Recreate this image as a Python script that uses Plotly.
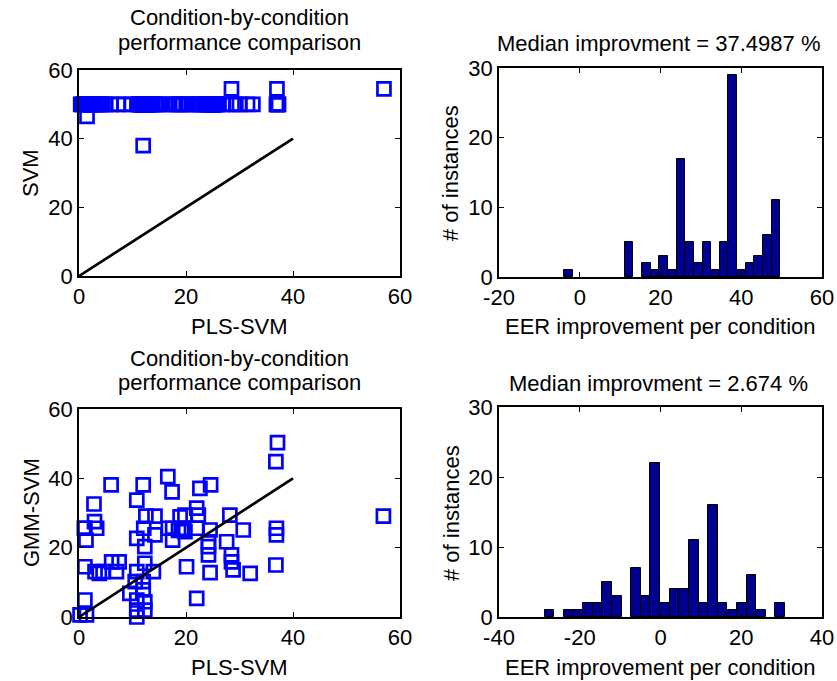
import plotly.graph_objects as go

W, H = 837, 681

# EER per condition: PLS-SVM (x) against the plain SVM baseline (y)
svm_pls = [0.32, 0.6, 0.8, 1.0, 1.2, 1.4, 1.6, 1.8, 2.0, 2.2, 2.4,
           2.7, 3.0, 3.4, 3.8, 4.1, 4.4,
           1.5, 5.0, 6.0,
           7.3, 8.4,
           9.8,
           11.1, 11.2, 11.3, 11.4, 11.5, 11.6, 11.7, 11.8, 11.9, 12.0,
           12.0, 12.1, 12.1, 12.2, 12.2, 12.3, 12.3, 12.4, 12.4, 12.5,
           12.5, 12.6, 12.6, 12.7, 12.8, 12.9, 13.0, 13.0, 13.1,
           13.4, 13.8, 14.3, 14.7, 15.1,
           16.2,
           17.6, 18.1, 18.6, 19.0, 19.4,
           20.2, 21.1,
           21.9, 22.4, 22.8, 23.2, 23.6,
           28.5, 12.0, 23.9, 24.0, 24.2, 24.3, 24.5, 24.6, 24.8, 24.9,
           25.0, 25.1, 25.3, 25.4, 25.6, 25.7, 25.9,
           27.0,
           28.6, 29.3, 30.0,
           31.5,
           37.0, 32.5,
           36.9, 37.0, 37.1, 37.2, 37.3,
           57.0]
svm_base = [50] * 11 + [50] * 6 + [46.5, 50, 50] + [50] * 2 + [50] + [50] * 29 \
    + [50] * 5 + [50] + [50] * 5 + [50] * 2 + [50] * 5 \
    + [54.5, 38.0] + [50] * 15 + [50] + [50] * 3 + [50] \
    + [54.5, 50] + [50] * 5 + [54.5]

# EER per condition: PLS-SVM (x) against the GMM-SVM baseline (y)
gmm_pls = [6.0, 12.0, 16.6, 17.4, 10.8, 2.8, 12.5, 14.2, 18.9, 2.9,
           1.0, 3.3, 1.3, 1.1, 10.8, 12.1, 14.2, 16.7, 17.5, 19.8,
           17.5, 12.3, 1.1, 3.0, 4.5, 6.1, 7.5, 7.0, 3.8, 12.3,
           10.8, 13.9, 10.5, 12.0, -0.4, 1.1, 9.5, 12.0, 10.8, 12.3,
           10.8, 12.3, 10.8, 0.2, 1.4, -0.3, 18.6, 19.5,
           37.1, 36.8, 22.6, 24.6, 22.0, 19.8, 22.3, 28.2, 19.2, 22.0,
           24.5, 30.7, 36.9, 36.9, 24.2, 24.2, 27.6, 24.2, 28.5, 28.5,
           28.8, 32.0, 20.1, 24.5, 36.8, 22.0, 56.9]
gmm_base = [38.1, 38.1, 40.5, 36.1, 33.7, 32.6, 29.1, 29.1, 28.9, 27.5,
            25.6, 25.6, 22.2, 25.6, 22.7, 25.6, 23.7, 25.6, 25.6, 24.6,
            22.2, 20.3, 14.5, 13.1, 13.1, 15.9, 15.9, 13.1, 12.6, 15.5,
            13.1, 13.1, 10.2, 10.2, 7.5, 4.9, 6.8, 7.8, 4.9, 4.4,
            2.0, 2.0, 0.0, 0.6, 0.6, 0.0, 25.0, 25.0,
            50.3, 44.8, 37.1, 38.1, 31.4, 29.4, 29.4, 29.4, 25.6, 25.6,
            25.1, 25.1, 25.6, 23.7, 21.7, 20.3, 21.7, 17.9, 17.9, 15.9,
            13.6, 12.6, 14.5, 12.8, 15.0, 5.4, 29.1]

# Histogram of EER improvement, PLS-SVM over SVM (bin centres, counts)
svm_gain_bins = [-2.73, -0.59, 1.55, 3.69, 5.83, 7.97, 10.10, 12.24, 14.38,
                 16.52, 18.66, 20.80, 22.94, 25.08, 27.22, 29.36, 31.49,
                 33.63, 35.77, 37.91, 40.05, 42.19, 44.33, 46.47, 48.61]
svm_gain_counts = [1, 0, 0, 0, 0, 0, 0, 5, 0, 2, 1, 3, 1, 17, 5, 2, 5,
                   1, 5, 29, 1, 2, 3, 6, 11]

# Histogram of EER improvement, PLS-SVM over GMM-SVM (bin centres, counts)
gmm_gain_bins = [-27.52, -25.14, -22.76, -20.37, -17.99, -15.61, -13.22,
                 -10.84, -8.46, -6.07, -3.69, -1.31, 1.08, 3.46, 5.84, 8.23,
                 10.61, 12.99, 15.37, 17.76, 20.14, 22.52, 24.91, 27.29,
                 29.67]
gmm_gain_counts = [1, 0, 1, 1, 2, 2, 5, 3, 0, 7, 3, 22, 2, 4, 4, 11, 2,
                   16, 2, 1, 2, 6, 1, 0, 2]

# Equal-performance reference line
diag_x = [0, 40]
diag_y = [0, 40]

svm_title = "Median improvment = 37.4987 %"
gmm_title = "Median improvment = 2.674 %"

FONT = "Liberation Sans, Arial, Helvetica, sans-serif"
FS = 22
BLUE = "#0000FF"
NAVY = "#00008F"


def px_x(p):
    return p / W


def px_y(p):
    return 1 - p / H


fig = go.Figure()

square = dict(symbol="square-open", size=13, color=BLUE,
              line=dict(color=BLUE, width=2.7))


def hist_bar(bins, counts, xa, ya):
    # empty bins get no outline so nothing is drawn along the baseline
    edge_w = [1 if c > 0 else 0 for c in counts]
    return go.Bar(x=bins, y=counts, width=bins[1] - bins[0],
                  marker=dict(color=NAVY, line=dict(color="black", width=edge_w)),
                  xaxis=xa, yaxis=ya)


fig.add_trace(go.Scatter(x=svm_pls, y=svm_base, mode="markers", marker=square,
                         xaxis="x", yaxis="y", cliponaxis=False))
fig.add_trace(go.Scatter(x=diag_x, y=diag_y, mode="lines",
                         line=dict(color="black", width=2.7),
                         xaxis="x", yaxis="y"))
fig.add_trace(hist_bar(svm_gain_bins, svm_gain_counts, "x2", "y2"))
fig.add_trace(go.Scatter(x=gmm_pls, y=gmm_base, mode="markers", marker=square,
                         xaxis="x3", yaxis="y3", cliponaxis=False))
fig.add_trace(go.Scatter(x=diag_x, y=diag_y, mode="lines",
                         line=dict(color="black", width=2.7),
                         xaxis="x3", yaxis="y3"))
fig.add_trace(hist_bar(gmm_gain_bins, gmm_gain_counts, "x4", "y4"))


def axis(dom, rng, ticks, anchor):
    return dict(domain=dom, range=rng, tickvals=ticks,
                ticktext=[str(t) for t in ticks], anchor=anchor,
                automargin=False,
                showline=True, linecolor="black", linewidth=1.5,
                mirror="ticks", ticks="inside", ticklen=5, tickwidth=1.3,
                tickcolor="black", showgrid=False, zeroline=False,
                fixedrange=True,
                tickfont=dict(family=FONT, size=FS, color="black"))


left = [px_x(79), px_x(400)]
right = [px_x(499), px_x(822)]
top_l = [px_y(276), px_y(70)]
top_r = [px_y(277), px_y(68)]
bot_l = [px_y(617), px_y(409)]
bot_r = [px_y(617), px_y(407)]

fig.update_layout(
    template="none",
    width=W, height=H,
    margin=dict(l=0, r=0, t=0, b=0, pad=0),
    paper_bgcolor="white", plot_bgcolor="white",
    showlegend=False, bargap=0,
    font=dict(family=FONT, size=FS, color="black"),
    xaxis=axis(left, [0, 60], [0, 20, 40, 60], "y"),
    yaxis=axis(top_l, [0, 60], [0, 20, 40, 60], "x"),
    xaxis2=axis(right, [-20, 60], [-20, 0, 20, 40, 60], "y2"),
    yaxis2=axis(top_r, [0, 30], [0, 10, 20, 30], "x2"),
    xaxis3=axis(left, [0, 60], [0, 20, 40, 60], "y3"),
    yaxis3=axis(bot_l, [0, 60], [0, 20, 40, 60], "x3"),
    xaxis4=axis(right, [-40, 40], [-40, -20, 0, 20, 40], "y4"),
    yaxis4=axis(bot_r, [0, 30], [0, 10, 20, 30], "x4"),
)


def label(text, x, y, angle=0):
    fig.add_annotation(text=text, x=px_x(x), y=px_y(y), xref="paper",
                       yref="paper", showarrow=False, textangle=angle,
                       xanchor="center", yanchor="middle",
                       font=dict(family=FONT, size=FS, color="black"))


# Titles
label("Condition-by-condition", 239, 18)
label("performance comparison", 239, 42)
label(svm_title, 658, 43)
label("Condition-by-condition", 239, 358)
label("performance comparison", 239, 382)
label(gmm_title, 658, 383)

# Axis titles
label("PLS-SVM", 239, 327)
label("EER improvement per condition", 660, 327)
label("PLS-SVM", 239, 667)
label("EER improvement per condition", 660, 667)
label("SVM", 31, 173, -90)
label("GMM-SVM", 31, 513, -90)
label("# of instances", 451, 173, -90)
label("# of instances", 451, 513, -90)

fig.write_html("out.html")
